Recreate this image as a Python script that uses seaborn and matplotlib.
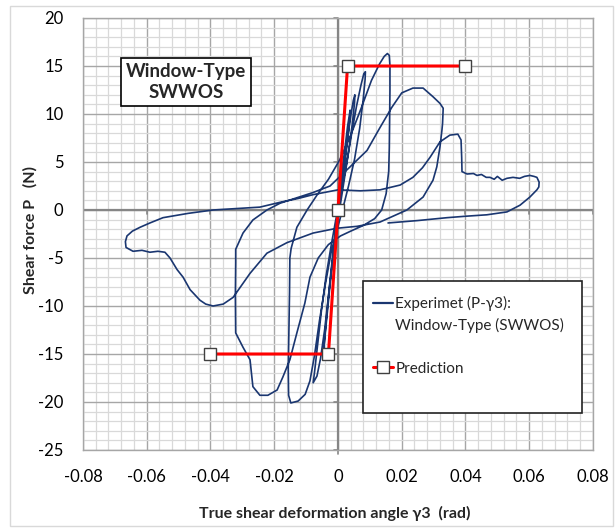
import matplotlib
matplotlib.use("Agg")
import matplotlib.pyplot as plt
import seaborn as sns
import pandas as pd
from matplotlib.patches import Rectangle
from matplotlib.lines import Line2D
from matplotlib.ticker import MultipleLocator

# ---------------- data ----------------
gamma3 = [
    0.0, 0.0006, 0.0014, 0.0022, 0.003, 0.0036, 0.0038, 0.0037, 0.0031, 0.0022, 0.0012, 0.0002, -0.0006,
    -0.0014, -0.0024, -0.0033, -0.0041, -0.0047, -0.0045, -0.0037, -0.0027, -0.0016, -0.0006,
    0.0004, 0.0016, 0.0028, 0.004, 0.0048, 0.0053, 0.0052, 0.0045, 0.0033, 0.0019, 0.0005, -0.0007,
    -0.0018, -0.003, -0.0042, -0.0055, -0.0066, -0.0078, -0.0074, -0.0064, -0.0052, -0.0038, -0.0022, -0.0008,
    0.0008, 0.0025, 0.0042, 0.0058, 0.0072, 0.0081, 0.0086, 0.0085, 0.0079, 0.0068, 0.0052, 0.0033, 0.0014, -0.0004,
    -0.0022, -0.004, -0.0058, -0.0074, -0.0088, -0.0103, -0.0125, -0.0148, -0.0155, -0.0156, -0.0154, -0.0152,
    -0.0151, -0.0147, -0.0129, -0.0097, -0.0065, -0.003, 0.0005, 0.004, 0.0075, 0.0105, 0.013, 0.0145, 0.0155,
    0.0161, 0.0163, 0.0163, 0.0162, 0.0161, 0.0159, 0.0151, 0.0137, 0.0115, 0.008, 0.004, 0.0008,
    -0.003, -0.0062, -0.0088, -0.0104, -0.0129, -0.0151, -0.0173, -0.0191, -0.022, -0.0245, -0.0267, -0.0276,
    -0.0298, -0.0321, -0.0322, -0.0321, -0.0321, -0.0298, -0.0267, -0.0223, -0.0182, -0.0151, -0.008, -0.0025,
    0.0038, 0.0091, 0.0132, 0.0169, 0.02, 0.0235, 0.0267, 0.0298, 0.032, 0.033, 0.0328, 0.0326, 0.032, 0.031,
    0.0298, 0.0267, 0.0216, 0.0132, 0.006, -0.0003,
    -0.0078, -0.016, -0.0223, -0.0276, -0.0329, -0.036, -0.0392, -0.0415, -0.0433, -0.0464, -0.0486, -0.0505,
    -0.0527, -0.0543, -0.0565, -0.059, -0.0615, -0.0643, -0.0665, -0.0667, -0.0662, -0.0645, -0.0621, -0.059,
    -0.0549, -0.047, -0.0392, -0.032, -0.0245, -0.0182, -0.0125, -0.0078, 0.0, 0.007, 0.0132, 0.0195, 0.0235,
    0.0265, 0.0289, 0.032, 0.0351, 0.0376, 0.0386, 0.0388, 0.0389, 0.0405, 0.0425, 0.0436, 0.045, 0.0465,
    0.0477, 0.049, 0.05, 0.0515, 0.053, 0.0549, 0.057, 0.0585, 0.0602, 0.0615, 0.0624, 0.0631, 0.063, 0.0624,
    0.0602, 0.0571, 0.053, 0.0467, 0.04, 0.0342, 0.025, 0.0157,
]
shear_P = [
    0.0, 2.0, 4.5, 6.5, 8.7, 10.0, 10.4, 9.6, 7.5, 5.0, 2.5, 0.0, -2.0,
    -4.5, -7.5, -10.5, -13.2, -15.3, -14.5, -11.5, -8.0, -4.5, -1.5,
    1.0, 4.0, 7.0, 9.8, 11.4, 12.0, 11.2, 9.0, 6.0, 3.0, 0.0, -2.5,
    -5.5, -9.0, -12.5, -15.5, -17.3, -18.0, -17.0, -14.0, -10.5, -7.0, -3.8, -1.2,
    1.5, 4.5, 7.8, 10.8, 13.0, 14.2, 14.4, 13.6, 11.5, 8.5, 5.3, 2.5, 0.0, -2.2,
    -4.5, -7.8, -11.5, -15.2, -17.8, -19.2, -19.9, -20.1, -19.3, -16.5, -12.5, -8.5,
    -5.0, -4.0, -1.8, 0.0, 1.6, 3.2, 5.2, 7.8, 10.8, 13.5, 15.2, 16.0, 16.3,
    16.1, 15.0, 12.5, 9.5, 6.5, 4.0, 1.7, 0.0, -0.9, -1.6, -2.2, -2.7,
    -3.6, -5.0, -7.0, -9.7, -12.8, -15.6, -17.4, -18.75, -19.3, -19.3, -18.4, -15.6,
    -14.3, -12.8, -9.0, -5.5, -4.1, -2.4, -1.04, 0.0, 0.7, 1.04, 1.8, 2.5,
    4.5, 6.2, 8.6, 10.7, 12.2, 12.7, 12.7, 11.8, 11.1, 10.6, 9.0, 8.3, 6.6, 4.5,
    3.1, 1.35, 0.0, -1.25, -1.7, -1.9,
    -2.4, -3.4, -4.5, -6.6, -9.1, -9.8, -10.0, -9.8, -9.4, -8.3, -7.0, -6.2,
    -5.0, -4.4, -4.3, -4.4, -4.2, -4.3, -3.9, -3.3, -2.7, -2.2, -1.8, -1.35,
    -0.8, -0.35, 0.0, 0.15, 0.3, 0.8, 1.2, 1.6, 2.1, 2.0, 2.1, 2.6, 3.4,
    4.4, 5.5, 7.1, 7.8, 7.9, 7.3, 5.5, 4.0, 3.75, 3.8, 3.6, 3.7, 3.4,
    3.4, 3.2, 3.5, 3.1, 3.3, 3.4, 3.3, 3.5, 3.6, 3.5, 3.4, 2.9, 2.4, 2.1,
    1.35, 0.5, -0.2, -0.5, -0.65, -0.8, -1.1, -1.35,
]
pred_gamma = [-0.04, -0.003, 0.0, 0.003, 0.04]
pred_P = [-15, -15, 0, 15, 15]

x_ticks = [-0.08, -0.06, -0.04, -0.02, 0.0, 0.02, 0.04, 0.06, 0.08]
x_tick_labels = ["-0.08", "-0.06", "-0.04", "-0.02", "0", "0.02", "0.04", "0.06", "0.08"]
y_ticks = [-25, -20, -15, -10, -5, 0, 5, 10, 15, 20]
y_tick_labels = ["-25", "-20", "-15", "-10", "-5", "0", "5", "10", "15", "20"]

series_exp = "Experimet (P-\u03b33):"
series_exp2 = "Window-Type (SWWOS)"
series_pred = "Prediction"
title_text = "Window-Type\nSWWOS"
x_label = "True shear deformation angle \u03b33  (rad)"
y_label = "Shear force P   (N)"

# ---------------- style ----------------
sns.set_style("white")
plt.rcParams['font.family'] = ['Lato', 'DejaVu Sans']

W, H = 615, 529
fig = plt.figure(figsize=(W / 100, H / 100), dpi=100)
L, R, T, B = 83, 593, 18, 450
ax = fig.add_axes([L / W, 1 - B / H, (R - L) / W, (B - T) / H])

def ax_xy(px, py):
    return ((px - L) / (R - L), (B - py) / (B - T))

curve_color = "#1a3670"
major_c = "#a6a6a6"
minor_c = "#d9d9d9"

df_exp = pd.DataFrame({"gamma3": gamma3, "P": shear_P})
df_pred = pd.DataFrame({"gamma3": pred_gamma, "P": pred_P})

sns.lineplot(data=df_exp, x="gamma3", y="P", sort=False, estimator=None,
             color=curve_color, lw=1.2, ax=ax, zorder=3)
sns.lineplot(data=df_pred, x="gamma3", y="P", sort=False, estimator=None,
             color="#ff0000", lw=2.2, marker="s", markersize=9,
             markerfacecolor="white", markeredgecolor="#404040",
             markeredgewidth=1.0, ax=ax, zorder=4)

ax.set_xlim(-0.08, 0.08)
ax.set_ylim(-25, 20)
ax.set_xticks(x_ticks)
ax.set_xticklabels(x_tick_labels)
ax.set_yticks(y_ticks)
ax.set_yticklabels(y_tick_labels)
ax.xaxis.set_minor_locator(MultipleLocator(0.004))
ax.yaxis.set_minor_locator(MultipleLocator(1))
ax.grid(which="minor", color=minor_c, lw=0.9)
ax.grid(which="major", color=major_c, lw=1.0)
ax.set_axisbelow(True)
ax.tick_params(which="both", length=0)
ax.tick_params(axis="x", pad=14, labelsize=12, colors="black")
ax.tick_params(axis="y", pad=14, labelsize=12, colors="black")
for s in ax.spines.values():
    s.set_color(major_c)
    s.set_linewidth(1.0)
ax.set_xlabel("")
ax.set_ylabel("")

# zero axes with small tick marks
ax.axhline(0, color="#868686", lw=1.6, zorder=2)
ax.axvline(0, color="#868686", lw=1.6, zorder=2)
for xt in x_ticks:
    if xt != 0:
        ax.plot([xt, xt], [0, -0.45], color="#868686", lw=1.2, zorder=2)
for yt in y_ticks:
    ax.plot([-0.0013, 0], [yt, yt], color="#868686", lw=1.2, zorder=2, clip_on=False)
ax.plot([0, 0], [-25, -25.45], color="#868686", lw=1.2, zorder=2, clip_on=False)

# title box
tx, ty = ax_xy(186, 82)
ax.text(tx, ty, title_text, transform=ax.transAxes, ha="center", va="center",
        fontsize=13.5, fontweight="bold", linespacing=1.3, zorder=6,
        bbox=dict(boxstyle="square,pad=0.28", fc="white", ec="black", lw=1.2))

# legend box
x0, y0 = ax_xy(363, 413)
x1, y1 = ax_xy(582, 281)
ax.add_patch(Rectangle((x0, y0), x1 - x0, y1 - y0, transform=ax.transAxes,
                       fc="white", ec="#222222", lw=1.2, zorder=6, clip_on=False))
handles = [
    Line2D([], [], color=curve_color, lw=1.6),
    Line2D([], [], color="none"),
    Line2D([], [], color="none"),
    Line2D([], [], color="#ff0000", lw=2.2, marker="s", markersize=9,
           markerfacecolor="white", markeredgecolor="#404040", markeredgewidth=1.0),
]
labels = [series_exp, series_exp2, " ", series_pred]
lx, ly = ax_xy(373, 296)
leg = ax.legend(handles, labels, loc="upper left", bbox_to_anchor=(lx, ly),
                bbox_transform=ax.transAxes, frameon=False, fontsize=11,
                handlelength=1.3, handletextpad=0.15, labelspacing=0.47,
                borderpad=0, borderaxespad=0)
leg.set_zorder(7)

# axis titles
fig.text(335 / W, 1 - 513 / H, x_label, ha="center", va="center",
         fontsize=11.5, fontweight="bold")
fig.text(30 / W, 1 - 230 / H, y_label, ha="center", va="center",
         rotation=90, fontsize=11.5, fontweight="bold")

# chart-area border
fig.patches.append(Rectangle((10 / W, 1 - 526 / H), (613 - 10) / W, (526 - 6) / H,
                             transform=fig.transFigure, fill=False,
                             ec="#d9d9d9", lw=1.0))

fig.savefig("out.png", dpi=100)
